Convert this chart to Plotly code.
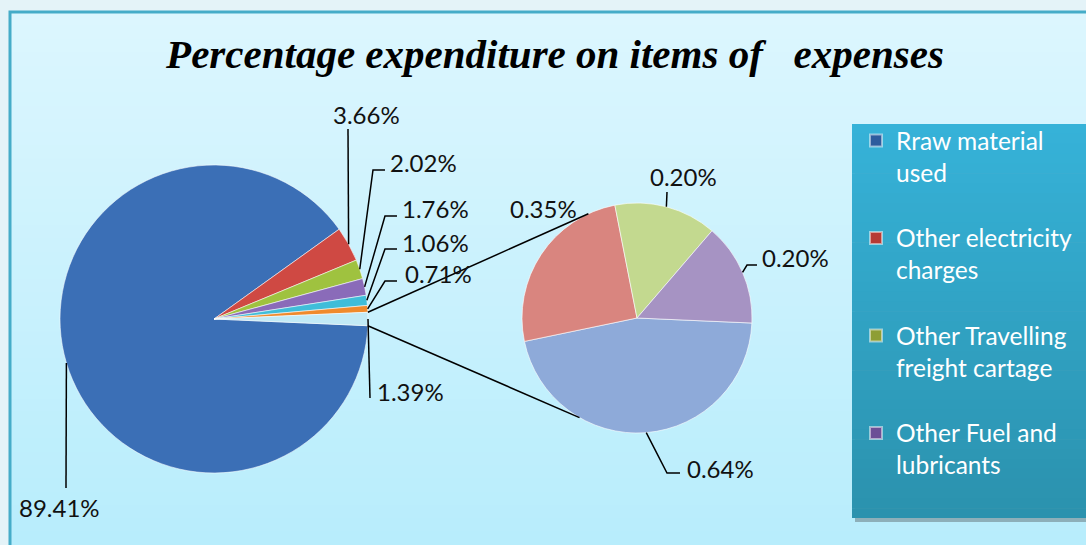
import math
import plotly.graph_objects as go

W, H = 1086, 545

# ---------------- data ----------------
main_labels = ["Rraw material used", "Other electricity charges", "Other Travelling freight cartage",
               "Other Fuel and lubricants", "Other expenses 1", "Other expenses 2", "Other"]
main_values = [89.41, 3.66, 2.02, 1.76, 1.06, 0.71, 1.39]
main_text = ["89.41%", "3.66%", "2.02%", "1.76%", "1.06%", "0.71%", "1.39%"]

sec_labels = ["Other expenses 3", "Other expenses 4", "Other expenses 5", "Other expenses 6"]
sec_values = [0.64, 0.35, 0.20, 0.20]
sec_text = ["0.64%", "0.35%", "0.20%", "0.20%"]

legend_labels = ["Rraw material<br>used", "Other electricity<br>charges",
                 "Other Travelling<br>freight cartage", "Other Fuel and<br>lubricants"]

title_text = "Percentage expenditure on items of\u00a0\u00a0 expenses"

# ---------------- styles / layout ----------------
main_colors = ["#3b6fb6", "#cf4943", "#9fc23f", "#8a6bb9", "#3fbdd9", "#f08a2c", "#c2eaf6"]
sec_colors = ["#8eaad9", "#d9857f", "#c3d98f", "#a693c3"]
legend_colors = ["#2d5c9e", "#b63a35", "#8e9e35", "#6c4f96"]

MAIN = dict(cx=214, cy=319, r=154)
SEC = dict(cx=637, cy=318, r=115)
SEC_ROT = 92.5
CONNECT_ANGLES = (335, 210)   # where connector lines meet the secondary pie
LBL_FONT = dict(family="Lato", size=24, color="#111111")

# leader-line bend points and label anchors (px), per slice
main_leaders = [
    dict(pts=[(66, 488)], txt=(59, 507), anchor="center"),
    dict(pts=[(348, 129)], txt=(366, 114), anchor="center"),
    dict(pts=[(373, 170), (385, 170)], txt=(388, 162), anchor="left"),
    dict(pts=[(385, 216), (397, 216)], txt=(400, 209), anchor="left"),
    dict(pts=[(385, 249), (397, 249)], txt=(400, 242), anchor="left"),
    dict(pts=[(385, 281), (397, 281)], txt=(403, 273), anchor="left"),
    dict(pts=[(370, 398)], txt=(375, 391), anchor="left"),
]
sec_leaders = [
    dict(pts=[(667, 473), (680, 473)], txt=(685, 468), anchor="left"),
    dict(pts=None, txt=(543, 208), anchor="center"),
    dict(pts=[(667, 192)], txt=(683, 177), anchor="center"),
    dict(pts=[(747, 265), (757, 265)], txt=(760, 257), anchor="left"),
]


def px2paper(x, y):
    return x / W, 1 - y / H


def domain(g):
    return dict(x=[(g["cx"] - g["r"]) / W, (g["cx"] + g["r"]) / W],
                y=[1 - (g["cy"] + g["r"]) / H, 1 - (g["cy"] - g["r"]) / H])


def slice_angles(values, rot):
    tot = sum(values)
    a = rot
    out = []
    for v in values:
        span = 360.0 * v / tot
        out.append((a, a + span))
        a += span
    return out


def edge_pt(g, ang):
    t = math.radians(ang)
    return g["cx"] + g["r"] * math.sin(t), g["cy"] - g["r"] * math.cos(t)


# rotation so the last ("Other") slice is centred at 3 o'clock
tot = sum(main_values)
main_rot = (90 - 360.0 * (sum(main_values[:-1]) + main_values[-1] / 2) / tot) % 360
if main_rot > 180:
    main_rot -= 360

fig = go.Figure()
fig.add_trace(go.Pie(labels=main_labels, values=main_values, sort=False, direction="clockwise",
                     rotation=main_rot, domain=domain(MAIN), textinfo="none", showlegend=False,
                     marker=dict(colors=main_colors, line=dict(color="rgba(255,255,255,0.55)", width=1)),
                     hovertemplate="%{label}: %{value}%<extra></extra>"))
fig.add_trace(go.Pie(labels=sec_labels, values=sec_values, sort=False, direction="clockwise",
                     rotation=SEC_ROT, domain=domain(SEC), textinfo="none", showlegend=False,
                     marker=dict(colors=sec_colors, line=dict(color="rgba(255,255,255,0.6)", width=1)),
                     hovertemplate="%{label}: %{value}%<extra></extra>"))

# legend entries (legend only)
for i, (lab, col) in enumerate(zip(legend_labels, legend_colors)):
    fig.add_trace(go.Scatter(x=[None], y=[None], mode="markers", name=lab, legendgroup=str(i),
                             marker=dict(symbol="square", size=13, color=col,
                                         line=dict(color="rgba(255,255,255,0.5)", width=1))))

shapes = []
# background gradient of chart area
top_c, bot_c = (220, 246, 254), (184, 237, 252)
N = 40
y0, y1 = 12, H
for k in range(N):
    f = k / (N - 1)
    c = tuple(int(round(top_c[j] + (bot_c[j] - top_c[j]) * f)) for j in range(3))
    ya = y0 + (y1 - y0) * k / N
    yb = y0 + (y1 - y0) * (k + 1) / N + 1
    shapes.append(dict(type="rect", xref="paper", yref="paper", layer="below",
                       x0=10 / W, x1=1.01, y0=1 - yb / H, y1=1 - ya / H,
                       fillcolor="rgb(%d,%d,%d)" % c, line=dict(width=0)))
shapes.append(dict(type="rect", xref="paper", yref="paper", layer="below",
                   x0=10 / W, x1=1.01, y0=-0.01, y1=1 - 12 / H,
                   fillcolor="rgba(0,0,0,0)", line=dict(color="#45acc8", width=3)))

# legend box (shadow + gradient)
shapes.append(dict(type="rect", xref="paper", yref="paper", layer="below",
                   x0=855 / W, x1=1.01, y0=1 - 522 / H, y1=1 - 128 / H,
                   fillcolor="rgba(60,60,60,0.35)", line=dict(width=0)))
lt, lb = (54, 178, 216), (43, 146, 174)
for k in range(N):
    f = k / (N - 1)
    c = tuple(int(round(lt[j] + (lb[j] - lt[j]) * f)) for j in range(3))
    ya = 124 + (518 - 124) * k / N
    yb = 124 + (518 - 124) * (k + 1) / N + (0.6 if k < N - 1 else 0)
    shapes.append(dict(type="rect", xref="paper", yref="paper", layer="below",
                       x0=852 / W, x1=1.01, y0=1 - yb / H, y1=1 - ya / H,
                       fillcolor="rgb(%d,%d,%d)" % c, line=dict(width=0)))


def path(points):
    s = ""
    for i, (x, y) in enumerate(points):
        px, py = px2paper(x, y)
        s += ("M" if i == 0 else " L") + " %.5f %.5f" % (px, py)
    return s


annotations = []
line_style = dict(color="#000000", width=1.5)

main_ang = slice_angles(main_values, main_rot)
for (a0, a1), txt, spec in zip(main_ang, main_text, main_leaders):
    start = edge_pt(MAIN, (a0 + a1) / 2)
    shapes.append(dict(type="path", xref="paper", yref="paper", layer="above",
                       path=path([start] + spec["pts"]), line=line_style))
    tx, ty = px2paper(*spec["txt"])
    annotations.append(dict(x=tx, y=ty, xref="paper", yref="paper", text=txt, showarrow=False,
                            xanchor=spec["anchor"], yanchor="middle", font=LBL_FONT))

sec_ang = slice_angles(sec_values, SEC_ROT)
for (a0, a1), txt, spec in zip(sec_ang, sec_text, sec_leaders):
    if spec["pts"]:
        start = edge_pt(SEC, (a0 + a1) / 2)
        shapes.append(dict(type="path", xref="paper", yref="paper", layer="above",
                           path=path([start] + spec["pts"]), line=line_style))
    tx, ty = px2paper(*spec["txt"])
    annotations.append(dict(x=tx, y=ty, xref="paper", yref="paper", text=txt, showarrow=False,
                            xanchor=spec["anchor"], yanchor="middle", font=LBL_FONT))

# connector lines between "Other" slice and secondary pie
o0, o1 = main_ang[-1]
for ma, sa in ((o0, CONNECT_ANGLES[0]), (o1, CONNECT_ANGLES[1])):
    shapes.append(dict(type="path", xref="paper", yref="paper", layer="above",
                       path=path([edge_pt(MAIN, ma), edge_pt(SEC, sa)]), line=line_style))

fig.update_layout(
    width=W, height=H,
    margin=dict(l=0, r=0, t=0, b=0),
    paper_bgcolor="#e4f3f8",
    plot_bgcolor="rgba(0,0,0,0)",
    xaxis=dict(visible=False), yaxis=dict(visible=False),
    title=dict(text=title_text, x=555 / W, xanchor="center", y=1 - 54 / H, yanchor="middle",
               font=dict(family="Liberation Serif", size=41, color="#000000", weight="bold", style="italic")),
    showlegend=True,
    legend=dict(x=856 / W, xanchor="left", y=1 - 118 / H, yanchor="top",
                bgcolor="rgba(0,0,0,0)", borderwidth=0, valign="top",
                font=dict(family="Lato", size=24.5, color="white"),
                traceorder="grouped", tracegroupgap=30.8, itemsizing="constant"),
    shapes=shapes,
    annotations=annotations,
)

fig.write_html("out.html", config={"displayModeBar": False},
               post_script="document.body.style.margin='0';document.body.style.overflow='hidden';")
